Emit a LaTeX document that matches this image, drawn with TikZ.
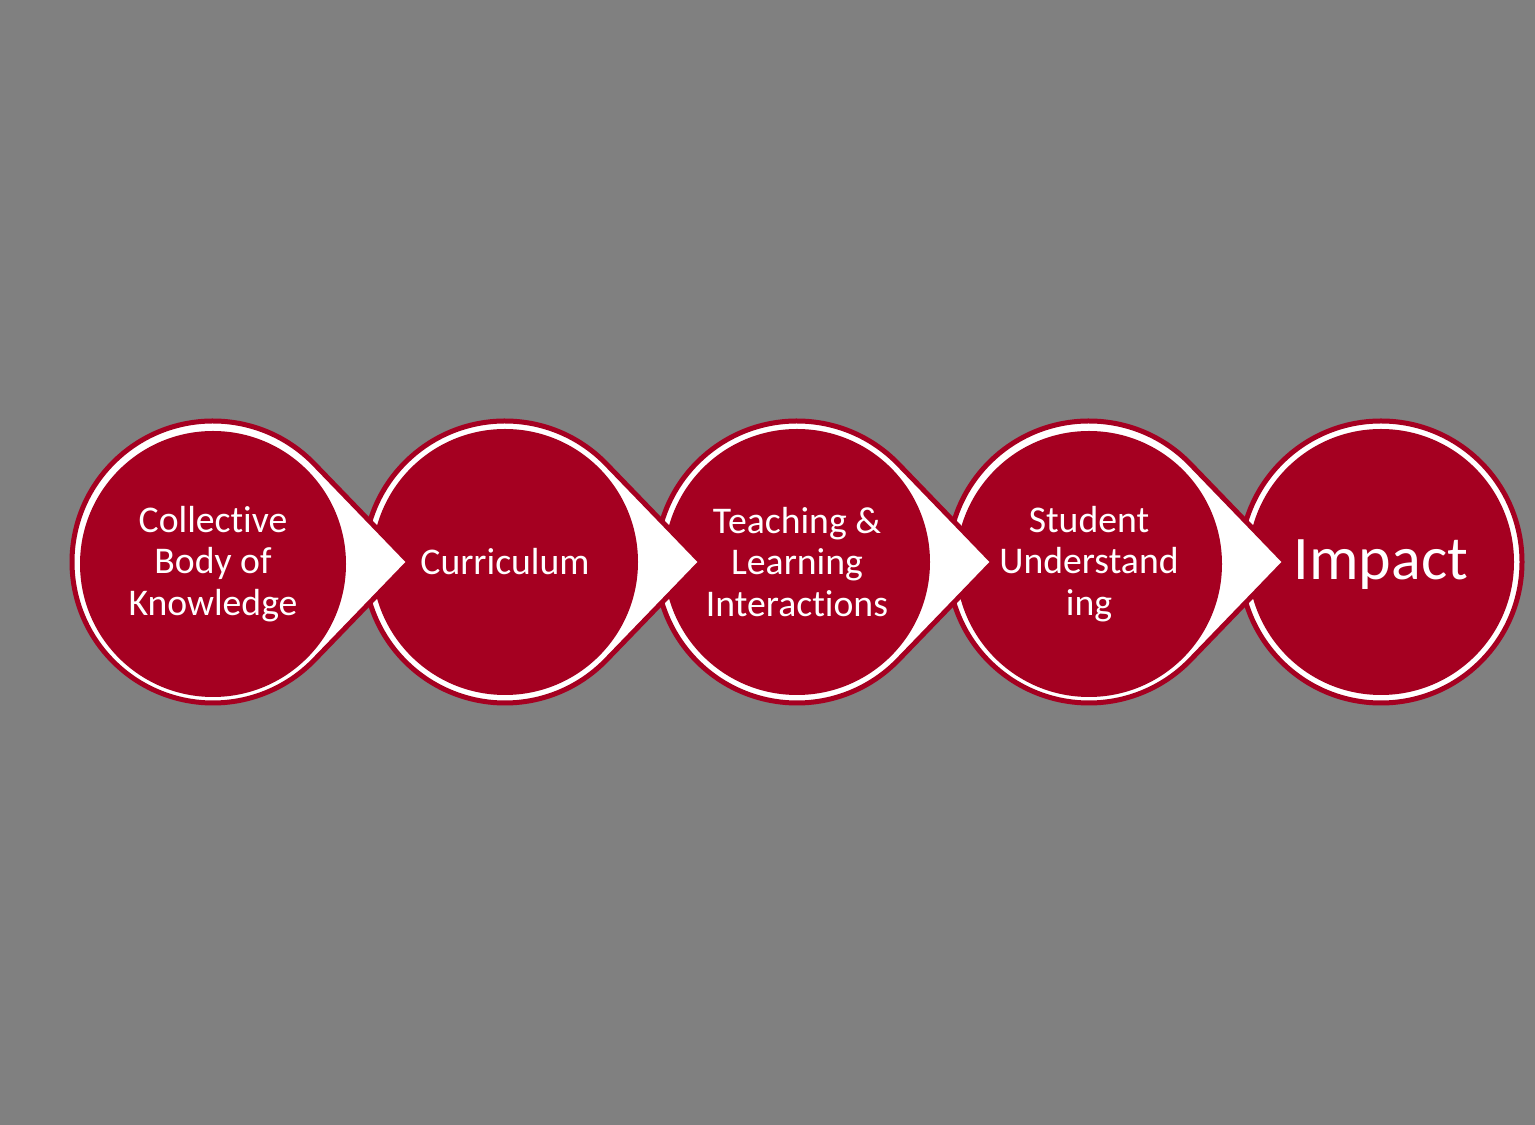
\documentclass[tikz,border=0pt]{standalone}
\usepackage{fontspec}
\setmainfont{Carlito}[Ligatures=NoCommon]
\definecolor{maroon}{HTML}{A50021}
\definecolor{slide}{HTML}{808080}
\tikzset{
  ring/.style={fill=white, draw=maroon, line width=5pt},
  disc/.style={circle, fill=maroon, text=white, minimum size=266pt, inner sep=0pt,
    align=center, font=\fontsize{37.7}{41.5}\selectfont},
}
\begin{document}
\begin{tikzpicture}[x=1pt,y=1pt]
  \fill[slide] (0,0) rectangle (1535,1125);
  \useasboundingbox (0,0) rectangle (1535,1125);
  % last one first, so every point lies over the next disc
  \draw[ring] (1381,563) circle[radius=141];
  \node [disc] (imp) at (1381,563) {};
  \node [text=white, font=\fontsize{62}{68}\selectfont] (impword) at (1381,560) {Impact};
  \draw[ring] (1285,563) -- ([shift={(1089,563)}]44:141) arc[start angle=44, end angle=316, radius=141] -- cycle;
  \node [disc] (stu) at (1089,561) {Student\\Understand\\ing};
  \draw[ring] (993,563) -- ([shift={(797,563)}]44:141) arc[start angle=44, end angle=316, radius=141] -- cycle;
  \node [disc] (tli) at (797,563) {Teaching \&\\Learning\\Interactions};
  \draw[ring] (701,563) -- ([shift={(505,563)}]44:141) arc[start angle=44, end angle=316, radius=141] -- cycle;
  \node [disc] (cur) at (505,563) {Curriculum};
  \draw[ring] (409,563) -- ([shift={(213,563)}]44:141) arc[start angle=44, end angle=316, radius=141] -- cycle;
  \node [disc] (ckb) at (213,561) {Collective\\Body of\\Knowledge};
\end{tikzpicture}
\end{document}
